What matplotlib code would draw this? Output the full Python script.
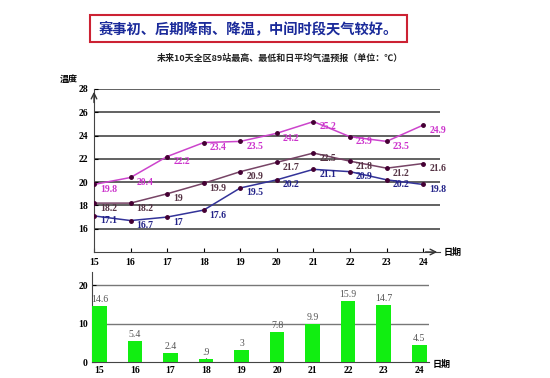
import matplotlib
matplotlib.use('Agg')
import numpy as np
from matplotlib import pyplot as plt
from matplotlib.patches import Rectangle

plt.rcParams['font.family'] = ['Liberation Serif', 'Noto Sans CJK SC', 'DejaVu Sans']

days = [15, 16, 17, 18, 19, 20, 21, 22, 23, 24]
t_max = [19.8, 20.4, 22.2, 23.4, 23.5, 24.2, 25.2, 23.9, 23.5, 24.9]
t_mean = [18.2, 18.2, 19, 19.9, 20.9, 21.7, 22.5, 21.8, 21.2, 21.6]
t_min = [17.1, 16.7, 17, 17.6, 19.5, 20.2, 21.1, 20.9, 20.2, 19.8]
rain = [14.6, 5.4, 2.4, 0.9, 3, 7.8, 9.9, 15.9, 14.7, 4.5]

title = '赛事初、后期降雨、降温，中间时段天气较好。'
subtitle = '未来10天全区89站最高、最低和日平均气温预报（单位：℃）'

def fmt(v):
    s = '%g' % v
    if s.startswith('0.'):
        s = s[1:]
    return s

fig = plt.figure(figsize=(5.5, 3.78), dpi=100)

# title box
fig.patches.append(Rectangle((90/550, 1-42/378), 317/550, 27/378, transform=fig.transFigure,
                             fill=False, edgecolor='#cc2233', lw=1.5))
fig.text(248/550, 1-29/378, title, ha='center', va='center', fontsize=10.3, color='#1a2a9a',
         fontweight='bold', family=['Noto Sans CJK SC', 'DejaVu Sans'])
fig.text(280/550, 1-58/378, subtitle, ha='center', va='center', fontsize=6.5, color='#222222',
         fontweight='bold', family=['Noto Sans CJK SC', 'DejaVu Sans'])

# temperature chart
ax = fig.add_axes([94/550, 1-252/378, 346/550, 163/378])
ax.set_xlim(15, 24.46)
ax.set_ylim(14, 28)
for g in range(16, 29, 2):
    ax.axhline(g, color='#555555', lw=1.3, zorder=1)

series = [(t_max, '#cc44cc', '#cc33cc'),
          (t_mean, '#774466', '#553344'),
          (t_min, '#333399', '#222288')]
for vals, lc, tc in series:
    ax.plot(days, vals, color=lc, lw=1.1, zorder=3)
    ax.plot(days, vals, 'o', color='#440033', ms=2.5, zorder=4)
    for d, v in zip(days, vals):
        ax.annotate(fmt(v), (d, v), xytext=(6, -5), textcoords='offset pixels',
                    ha='left', va='center', fontsize=7, color=tc, fontweight='bold')

ax.set_xticks(days)
ax.set_yticks(range(16, 29, 2))
ax.tick_params(labelsize=7, length=3, direction='in', pad=4)
for lab in ax.get_xticklabels() + ax.get_yticklabels():
    lab.set_fontweight('bold')
ax.spines['top'].set_visible(False)
ax.spines['right'].set_visible(False)
ax.spines['left'].set_color('#444444')
ax.spines['bottom'].set_color('#444444')
ax.annotate('', xy=(0, 1.0), xytext=(0, 0.9), xycoords='axes fraction',
            arrowprops=dict(arrowstyle='->', color='#333333', lw=1))
ax.annotate('', xy=(1.0, 0), xytext=(0.95, 0), xycoords='axes fraction',
            arrowprops=dict(arrowstyle='->', color='#333333', lw=1))
ax.text(-0.1, 1.06, '温度', transform=ax.transAxes, fontsize=6.5, fontweight='bold',
        family=['Noto Sans CJK SC', 'DejaVu Sans'], va='center')
ax.text(1.01, 0, '日期', transform=ax.transAxes, fontsize=6.5, fontweight='bold',
        family=['Noto Sans CJK SC', 'DejaVu Sans'], va='center')

# rainfall chart
bx = fig.add_axes([92/550, 1-362/378, 337/550, 90/378])
bx.set_xlim(14.79, 24.28)
bx.set_ylim(0, 23.4)
for g in [10, 20]:
    bx.axhline(g, color='#777777', lw=1.0, zorder=1)
bx.bar(days, rain, width=0.42, color='#11ee11', zorder=3)
for d, v in zip(days, rain):
    bx.annotate(fmt(v), (d, v), xytext=(0, 2), textcoords='offset pixels',
                ha='center', va='bottom', fontsize=7, color='#555555')
bx.set_xticks(days)
bx.set_yticks([0, 10, 20])
bx.tick_params(labelsize=7, length=3, direction='in', pad=3)
for lab in bx.get_xticklabels() + bx.get_yticklabels():
    lab.set_fontweight('bold')
bx.spines['top'].set_visible(False)
bx.spines['right'].set_visible(False)
bx.spines['left'].set_color('#444444')
bx.spines['bottom'].set_color('#444444')
bx.text(1.01, -0.03, '日期', transform=bx.transAxes, fontsize=6.5, fontweight='bold',
        family=['Noto Sans CJK SC', 'DejaVu Sans'], va='center')

fig.savefig('out.png', dpi=100)
